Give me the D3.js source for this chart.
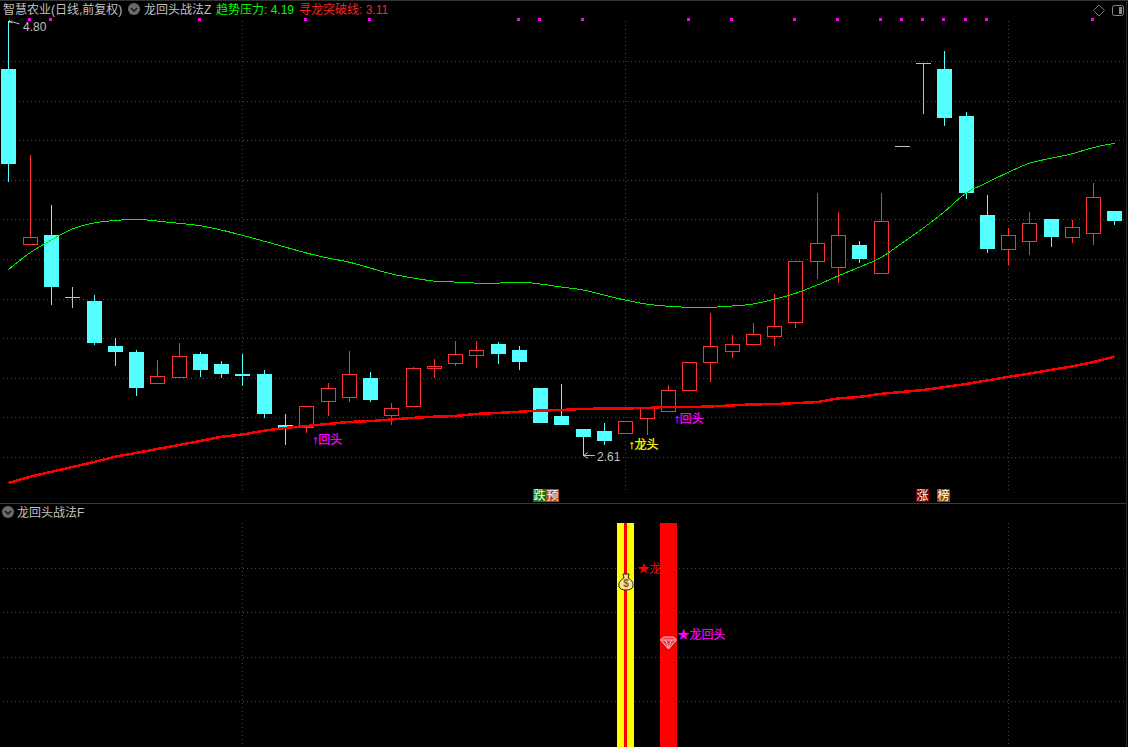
<!DOCTYPE html>
<html><head><meta charset="utf-8">
<script src="https://cdn.jsdelivr.net/npm/d3@7/dist/d3.min.js"></script>
<style>html,body{margin:0;background:#000;overflow:hidden}svg{display:block}text{font-family:"Liberation Sans","Noto Sans CJK SC",sans-serif;font-size:12px}</style>
</head><body><svg id="c" width="1128" height="747"></svg>
<script>
// price data
const opens=[4.562,3.680,3.724,3.411,3.390,3.163,3.133,2.976,3.007,3.123,3.072,3.022,3.022,2.764,2.754,2.885,2.908,3.002,2.817,2.858,3.050,3.077,3.120,3.173,3.143,2.951,2.810,2.744,2.734,2.721,2.797,2.837,2.938,3.081,3.139,3.172,3.210,3.281,3.591,3.561,3.673,3.530,4.172,4.591,4.562,4.325,3.825,3.650,3.690,3.805,3.710,3.730,3.845];
const closes=[4.082,3.714,3.461,3.411,3.178,3.133,2.951,3.012,3.113,3.042,3.022,3.012,2.820,2.749,2.860,2.951,3.022,2.890,2.850,3.052,3.062,3.123,3.143,3.123,3.082,2.774,2.764,2.704,2.683,2.784,2.850,2.941,3.081,3.162,3.172,3.222,3.263,3.591,3.682,3.722,3.603,3.793,4.172,4.591,4.316,3.936,3.653,3.722,3.783,3.714,3.763,3.914,3.794];
const highs=[4.805,4.128,3.875,3.461,3.421,3.204,3.143,3.092,3.178,3.133,3.087,3.123,3.042,2.820,2.860,2.976,3.138,3.032,2.875,3.057,3.098,3.188,3.188,3.183,3.163,2.951,2.971,2.744,2.774,2.784,2.850,2.966,3.081,3.330,3.219,3.279,3.424,3.591,3.934,3.838,3.693,3.934,4.172,4.591,4.653,4.345,3.926,3.759,3.840,3.805,3.800,3.986,3.845];
const lows=[3.991,3.680,3.370,3.355,3.168,3.062,2.911,2.976,3.007,3.007,3.002,2.961,2.800,2.663,2.724,2.810,2.880,2.880,2.764,2.858,3.002,3.062,3.052,3.072,3.042,2.774,2.764,2.608,2.663,2.721,2.714,2.830,2.938,2.983,3.104,3.172,3.165,3.256,3.502,3.483,3.582,3.530,4.172,4.336,4.276,3.906,3.633,3.572,3.623,3.663,3.683,3.673,3.774];
const trendLine=[3.549,3.633,3.698,3.754,3.784,3.797,3.803,3.794,3.783,3.771,3.749,3.722,3.693,3.663,3.633,3.608,3.587,3.557,3.527,3.507,3.491,3.486,3.481,3.481,3.486,3.476,3.461,3.446,3.421,3.395,3.375,3.364,3.359,3.359,3.365,3.375,3.399,3.429,3.470,3.517,3.561,3.609,3.682,3.758,3.841,3.934,3.988,4.040,4.086,4.111,4.134,4.165,4.187];
const breakLine=[2.471,2.502,2.527,2.552,2.577,2.603,2.623,2.643,2.663,2.683,2.704,2.716,2.735,2.749,2.759,2.769,2.779,2.784,2.792,2.800,2.806,2.810,2.820,2.825,2.831,2.837,2.840,2.845,2.847,2.848,2.850,2.855,2.855,2.858,2.863,2.868,2.870,2.875,2.880,2.898,2.906,2.921,2.931,2.941,2.956,2.971,2.989,3.007,3.024,3.042,3.060,3.082,3.110];
const priceTicks=[4.6,4.4,4.2,4.0,3.8,3.6,3.4,3.2,3.0,2.8,2.6];
const topMarks=[1,2,9,14,17,24,25,27,32,34,37,39,41,42,43,44,45,46,51];
const monthBreaks=[11,29,47];
const signalTicks=[0.8,0.6,0.4,0.2];
const yellowBars=[29];
const redBars=[31];
const headerParts=[["智慧农业(日线,前复权)",3,"#c0c0c0"],["龙回头战法Z",144,"#c0c0c0"],["趋势压力: 4.19",216,"#00ff00"],["寻龙突破线: 3.11",299,"#ff2020"]];
const callouts=[["↑回头",14,2.693,"#ff00ff",6],["↑龙头",30,2.668,"#ffff00",-18],["↑回头",31,2.800,"#ff00ff",6]];
const tags=[["跌",25,"#0a7a0a",-7.5],["预",25,"#b04a10",5.5],["涨",43,"#800000",-7.5],["榜",44,"#8b4a0a",-7.5]];

const svg=d3.select("#c");
const x=d3.scalePoint().domain(d3.range(53)).range([8.49,1114.49]);
const y=d3.scaleLinear().domain([2.6,4.6]).range([457.5,61.5]);
const y2=d3.scaleLinear().domain([0,1]).range([746,523]);
const root=svg.append("g");
root.append("rect").attr("width",1128).attr("height",747).attr("fill","#000");
const dotted=(sel)=>sel.attr("stroke","#454545").attr("stroke-dasharray","1 3").attr("stroke-width",1);

// grid
root.selectAll(".gy").data(priceTicks).join("line").call(dotted)
 .attr("x1",3).attr("x2",1126).attr("y1",d=>Math.floor(y(d))+.5).attr("y2",d=>Math.floor(y(d))+.5);
root.selectAll(".gy2").data(signalTicks).join("line").call(dotted)
 .attr("x1",3).attr("x2",1126).attr("y1",d=>Math.round(y2(d))+.5).attr("y2",d=>Math.round(y2(d))+.5);
monthBreaks.forEach(i=>{
  const px=Math.round(x(i))+.5;
  root.append("line").call(dotted).attr("x1",px).attr("x2",px).attr("y1",21).attr("y2",490);
  root.append("line").call(dotted).attr("x1",px).attr("x2",px).attr("y1",523).attr("y2",747);
});
// frame
root.append("line").attr("x1",0).attr("x2",1128).attr("y1",.5).attr("y2",.5).attr("stroke","#333");
root.append("line").attr("x1",0).attr("x2",1126).attr("y1",503.5).attr("y2",503.5).attr("stroke","#3a3a3a");
root.append("line").attr("x1",1126.5).attr("x2",1126.5).attr("y1",0).attr("y2",747).attr("stroke","#2a2a2a");

// candles
const dir=i=>Math.sign(closes[i]-opens[i]);
const col=i=>dir(i)>0?"#ff3232":dir(i)===0?"#c0c0c0":"#54ffff";
const g=root.selectAll(".k").data(d3.range(53)).join("g").attr("shape-rendering","crispEdges");
g.append("line").attr("x1",i=>Math.round(x(i))+.5).attr("x2",i=>Math.round(x(i))+.5)
 .attr("y1",i=>Math.round(y(highs[i]))).attr("y2",i=>Math.round(y(lows[i]))).attr("stroke",col).attr("stroke-width",1);
g.append("rect")
 .attr("x",i=>Math.round(x(i))-7+(dir(i)>0?.5:0))
 .attr("width",i=>dir(i)>0?14:15)
 .attr("y",i=>{const a=y(Math.max(opens[i],closes[i]));return dir(i)>0?Math.round(a)+.5:Math.round(a)})
 .attr("height",i=>Math.max(1,Math.round(Math.abs(y(opens[i])-y(closes[i])))))
 .attr("fill",i=>dir(i)>0?"#000":col(i))
 .attr("stroke",i=>dir(i)>0?"#ff3232":"none");

// lines above the candles
const line=d3.line().x((d,i)=>x(i)).y(d=>y(d)).curve(d3.curveMonotoneX);
root.append("path").attr("d",line(trendLine)).attr("fill","none").attr("stroke","#00ee00").attr("stroke-width",1).attr("shape-rendering","crispEdges");
root.append("path").attr("d",line(breakLine)).attr("fill","none").attr("stroke","#ff0000").attr("stroke-width",2.5).attr("shape-rendering","crispEdges");

// top marks
root.selectAll(".tm").data(topMarks).join("rect").attr("x",i=>Math.round(x(i))-2).attr("y",18).attr("width",3).attr("height",3).attr("fill","#ff00ff");

// header
root.selectAll(".h").data(headerParts).join("text").attr("x",d=>d[1]).attr("y",14).attr("fill",d=>d[2]).text(d=>d[0]);
function chevron(cx,cy){
  root.append("circle").attr("cx",cx).attr("cy",cy).attr("r",6).attr("fill","#6a6a6a");
  root.append("path").attr("d",`M${cx-3} ${cy-1}L${cx} ${cy+2}L${cx+3} ${cy-1}`).attr("fill","none").attr("stroke","#111").attr("stroke-width",1.3);
}
chevron(134,9);chevron(8,512);
root.append("text").attr("x",17).attr("y",517).attr("fill","#c0c0c0").text("龙回头战法F");
// corner icons
root.append("path").attr("d","M1099 5L1104.5 10.5L1099 16L1093.5 10.5Z").attr("fill","none").attr("stroke","#777");
root.append("rect").attr("x",1112.5).attr("y",5.5).attr("width",11).attr("height",10).attr("rx",2).attr("fill","none").attr("stroke","#888");
root.append("rect").attr("x",1119).attr("y",7).attr("width",3).attr("height",7).attr("fill","#888");

// extremes
const gray="#c0c0c0";
root.append("path").attr("d",`M${x(0)+1} ${y(4.8)-2}L${x(0)+1} ${y(4.8)+1}M${x(0)+1} ${y(4.8)}L${x(0)+4} ${y(4.8)-1}M${x(0)+1} ${y(4.8)}L${x(0)+4} ${y(4.8)+1}M${x(0)+4} ${y(4.8)}L${x(0)+11} ${y(4.8)+2}`).attr("fill","none").attr("stroke",gray);
root.append("text").attr("x",23).attr("y",y(4.8)+9).attr("fill",gray).text("4.80");
root.append("path").attr("d",`M${x(27)+1} ${y(2.61)}L${x(27)+12} ${y(2.61)}M${x(27)+1} ${y(2.61)}L${x(27)+5} ${y(2.61)-3}M${x(27)+1} ${y(2.61)}L${x(27)+5} ${y(2.61)+3}`).attr("fill","none").attr("stroke",gray);
root.append("text").attr("x",597).attr("y",y(2.61)+5).attr("fill",gray).text("2.61");

// callouts
root.selectAll(".ca").data(callouts).join("text").attr("x",d=>x(d[1])+d[4]).attr("y",d=>y(d[2])+5).attr("fill",d=>d[3]).attr("stroke",d=>d[3]).attr("stroke-width",.25).text(d=>d[0]);

// tags
const tagG=root.selectAll(".tg").data(tags).join("g");
tagG.append("rect").attr("x",d=>Math.round(x(d[1])+d[3])).attr("y",489).attr("width",13).attr("height",13).attr("fill",d=>d[2]);
tagG.append("text").attr("x",d=>Math.round(x(d[1])+d[3])+.5).attr("y",500).attr("fill","#fff").text(d=>d[0]);

// lower panel bars
const barH=y2(0)-y2(1)+1;
root.selectAll(".yb").data(yellowBars).join("rect").attr("x",i=>Math.round(x(i))-8).attr("width",17).attr("y",y2(1)).attr("height",barH).attr("fill","#ffff00");
root.selectAll(".yi").data(yellowBars).join("rect").attr("x",i=>Math.round(x(i))-1).attr("width",3).attr("y",y2(1)).attr("height",barH).attr("fill","#ff0000");
root.selectAll(".rb").data(redBars).join("rect").attr("x",i=>Math.round(x(i))-8).attr("width",17).attr("y",y2(1)).attr("height",barH).attr("fill","#ff0000");

// lower labels
root.append("text").attr("x",637.5).attr("y",572.5).attr("fill","#ff0000").text("★龙");
root.append("text").attr("x",677.5).attr("y",638.5).attr("fill","#ff00ff").attr("stroke","#ff00ff").attr("stroke-width",.2).text("★龙回头");

// money bag
const bag=root.append("g").attr("transform","translate(626,582)");
bag.append("path").attr("d","M-3 -8H3L2 -4C6 -2 7.5 1 7 4C6.5 7 4 8 0 8C-4 8 -6.5 7 -7 4C-7.5 1 -6 -2 -2 -4Z").attr("fill","#f7e48c").attr("stroke","#2b2110").attr("stroke-width",1);
bag.append("text").attr("x",0).attr("y",5).attr("text-anchor","middle").attr("fill","#8a5a2b").style("font-size","10px").style("font-weight","bold").text("$");
// gem
const gem=root.append("g").attr("transform","translate(668.5,643)");
gem.append("path").attr("d","M-8 -3L-5 -6H5L8 -3L0 6Z").attr("fill","#e84050").attr("stroke","#f5c8c8").attr("stroke-width",1);
gem.append("path").attr("d","M-7 -3H7M-3 -3L0 5L3 -3").attr("fill","none").attr("stroke","#ffd8d8").attr("stroke-width",.7);
</script></body></html>
